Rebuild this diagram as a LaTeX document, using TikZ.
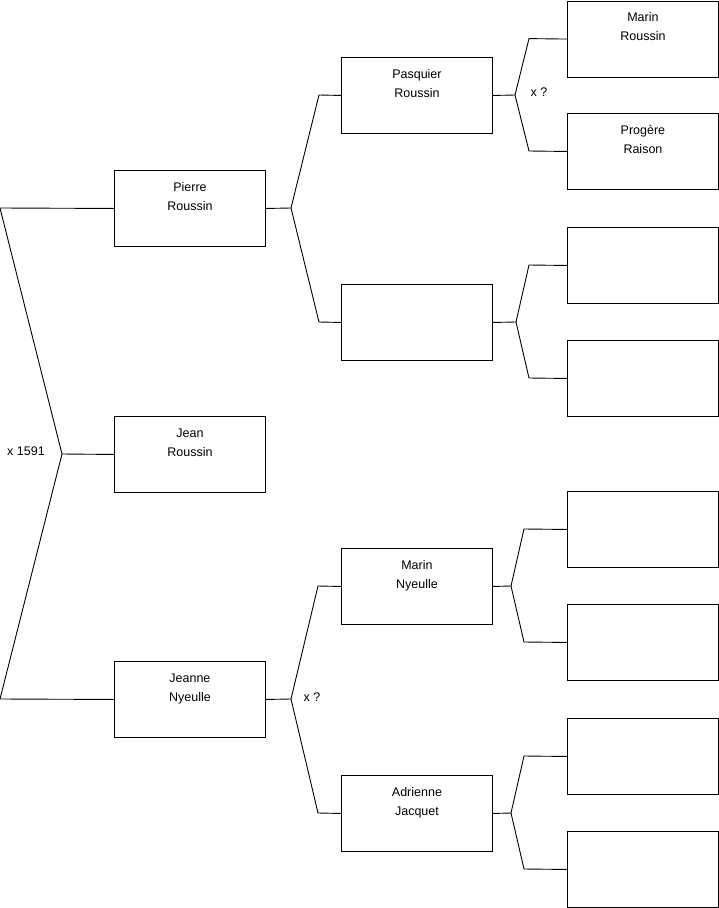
\documentclass[tikz,border=0pt]{standalone}
\usepackage{fontspec}
\setmainfont{Liberation Sans}
\begin{document}
\begin{tikzpicture}[x=1pt,y=-1pt,
  person/.style={draw=black,line width=0.9pt,minimum width=151pt,minimum height=76pt,inner sep=0pt,anchor=north west},
  txt/.style={font=\fontsize{12.5}{19.5}\selectfont,align=center,anchor=base,inner sep=0pt},
  lbl/.style={font=\fontsize{12.5}{15}\selectfont,inner sep=0pt},
  conn/.style={line width=0.9pt,black}]
\useasboundingbox (0,0) rectangle (719,908);
% column 1
\node[person] (pierre) at (114,170) {};
\node[person] (jean) at (114,416) {};
\node[person] (jeanne) at (114,661) {};
% column 2
\node[person] (pasquier) at (341,57) {};
\node[person] (e2) at (341,284) {};
\node[person] (marinN) at (341,548) {};
\node[person] (adrienne) at (341,775) {};
% column 3
\node[person] (marinR) at (567,0.6) {};
\node[person] (progere) at (567,113) {};
\node[person] (e3a) at (567,227) {};
\node[person] (e3b) at (567,340) {};
\node[person] (e3c) at (567,491) {};
\node[person] (e3d) at (567,604) {};
\node[person] (e3e) at (567,718) {};
\node[person] (e3f) at (567,831) {};
% texts (anchor = baseline of last line)
\node[txt] (tpierre) at ([yshift=-40.5pt]pierre.north) {Pierre\\Roussin};
\node[txt] (tjean) at ([yshift=-40.5pt]jean.north) {Jean\\Roussin};
\node[txt] (tjeanne) at ([yshift=-40.5pt]jeanne.north) {Jeanne\\Nyeulle};
\node[txt] (tpasquier) at ([yshift=-40.5pt]pasquier.north) {Pasquier\\Roussin};
\node[txt] (tmarinN) at ([yshift=-40.5pt]marinN.north) {Marin\\Nyeulle};
\node[txt] (tadrienne) at ([yshift=-40.5pt]adrienne.north) {Adrienne\\Jacquet};
\node[txt] (tmarinR) at ([yshift=-40pt]marinR.north) {Marin\\Roussin};
\node[txt] (tprogere) at ([yshift=-40.5pt]progere.north) {Progère\\Raison};
% left bracket
\coordinate (lt) at (0,208);
\coordinate (lj) at (62,454);
\coordinate (lb) at (0,699);
\draw[conn] (pierre.west) -- (lt) -- (lj) -- (lb) -- (jeanne.west);
\draw[conn] (lj) -- (jean.west);
\node[lbl] (x1591) at (26,451) {x 1591};
% Pierre -> parents
\coordinate (j1) at (291,208);
\draw[conn] (pierre.east) -- (j1);
\draw[conn] (j1) -- (319,95) -- (pasquier.west);
\draw[conn] (j1) -- (319,322) -- (e2.west);
% Jeanne -> parents
\coordinate (j2) at (291,699);
\draw[conn] (jeanne.east) -- (j2);
\draw[conn] (j2) -- (318,586) -- (marinN.west);
\draw[conn] (j2) -- (318,813) -- (adrienne.west);
\node[lbl] (xq1) at (312,697) {x ?};
% Pasquier -> parents
\coordinate (j3) at (515,95);
\draw[conn] (pasquier.east) -- (j3);
\draw[conn] (j3) -- (529,38.6) -- (marinR.west);
\draw[conn] (j3) -- (529,151) -- (progere.west);
\node[lbl] (xq2) at (539,92) {x ?};
% empty -> parents
\coordinate (j4) at (516,322);
\draw[conn] (e2.east) -- (j4);
\draw[conn] (j4) -- (529,265) -- (e3a.west);
\draw[conn] (j4) -- (529,378) -- (e3b.west);
% Marin Nyeulle -> parents
\coordinate (j5) at (511,586);
\draw[conn] (marinN.east) -- (j5);
\draw[conn] (j5) -- (524,529) -- (e3c.west);
\draw[conn] (j5) -- (524,642) -- (e3d.west);
% Adrienne -> parents
\coordinate (j6) at (511,813);
\draw[conn] (adrienne.east) -- (j6);
\draw[conn] (j6) -- (524,756) -- (e3e.west);
\draw[conn] (j6) -- (524,869) -- (e3f.west);
\end{tikzpicture}
\end{document}
